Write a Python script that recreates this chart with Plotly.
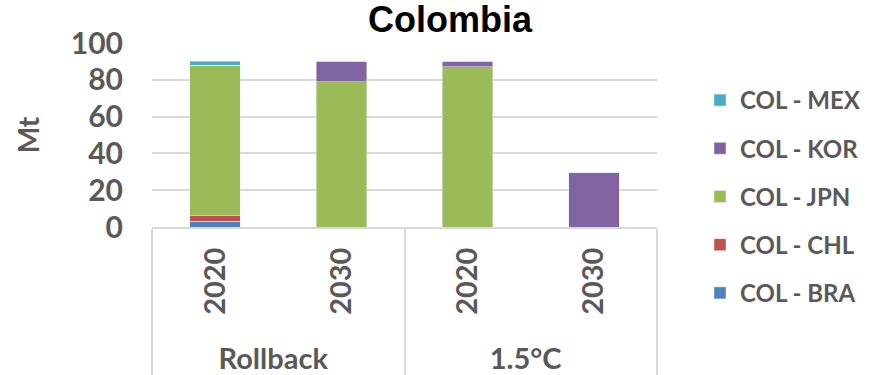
import plotly.graph_objects as go

# Scenario / year categories (two-level x axis)
scenarios = ["Rollback", "Rollback", "1.5°C", "1.5°C"]
years = ["2020", "2030", "2020", "2030"]

# Coal exports from Colombia by destination, Mt (stacked bottom to top)
col_bra = [3, 0, 0, 0]
col_chl = [3, 0, 0, 0]
col_jpn = [82, 79, 87, 0]
col_kor = [0, 11, 3, 29.5]
col_mex = [2, 0, 0, 0]

series = [
    ("COL - BRA", col_bra, "#4F81BD"),
    ("COL - CHL", col_chl, "#C0504D"),
    ("COL - JPN", col_jpn, "#9BBB59"),
    ("COL - KOR", col_kor, "#8064A2"),
    ("COL - MEX", col_mex, "#4BACC6"),
]

GREY = "#595959"
GRID = "#D9D9D9"
FONT = "Lato"

# a leading no-break space gives the rotated year labels a little room below them
year_labels = ["\u00a0" + y for y in years]

fig = go.Figure()
for i, (name, vals, color) in enumerate(series):
    fig.add_trace(go.Bar(
        x=[scenarios, year_labels],
        y=vals,
        name=name,
        legendgroup=name,
        legendrank=len(series) - i,
        marker=dict(color=color),
    ))

fig.update_layout(
    width=872,
    height=375,
    barmode="stack",
    bargap=0.6,
    plot_bgcolor="white",
    paper_bgcolor="white",
    margin=dict(l=152, r=215, t=43, b=148, autoexpand=False),
    title=dict(
        text="<b>Colombia</b>",
        font=dict(family="Liberation Sans", size=36, color="black"),
        x=450 / 872, xref="container", xanchor="center",
        y=1 - 19 / 375, yref="container", yanchor="middle",
    ),
    legend=dict(
        x=700 / 872, xref="container", xanchor="left",
        y=1 - 78 / 375, yref="container", yanchor="top",
        traceorder="grouped",
        tracegroupgap=14,
        itemwidth=30,
        maxheight=320,
        font=dict(family=FONT, size=24, color=GREY, weight="bold"),
        bgcolor="rgba(0,0,0,0)",
    ),
    font=dict(family=FONT, color=GREY),
)

fig.update_yaxes(
    range=[0, 100],
    dtick=20,
    showgrid=True,
    gridcolor=GRID,
    gridwidth=1.5,
    zeroline=False,
    showline=False,
    ticks="",
    ticklabelstandoff=28,
    tickfont=dict(family=FONT, size=30, color=GREY, weight="bold"),
    title=dict(
        text="<b>Mt</b>",
        font=dict(family=FONT, size=28, color=GREY),
        standoff=22,
    ),
    automargin=False,
)

fig.update_xaxes(
    type="multicategory",
    tickangle=-90,
    showline=True,
    linecolor=GRID,
    linewidth=2,
    showgrid=False,
    ticks="",
    showdividers=True,
    dividercolor=GRID,
    dividerwidth=2,
    ticklabelstandoff=7,
    tickfont=dict(family=FONT, size=29, color=GREY, weight="bold"),
    automargin=False,
)

fig.write_html("out.html")
